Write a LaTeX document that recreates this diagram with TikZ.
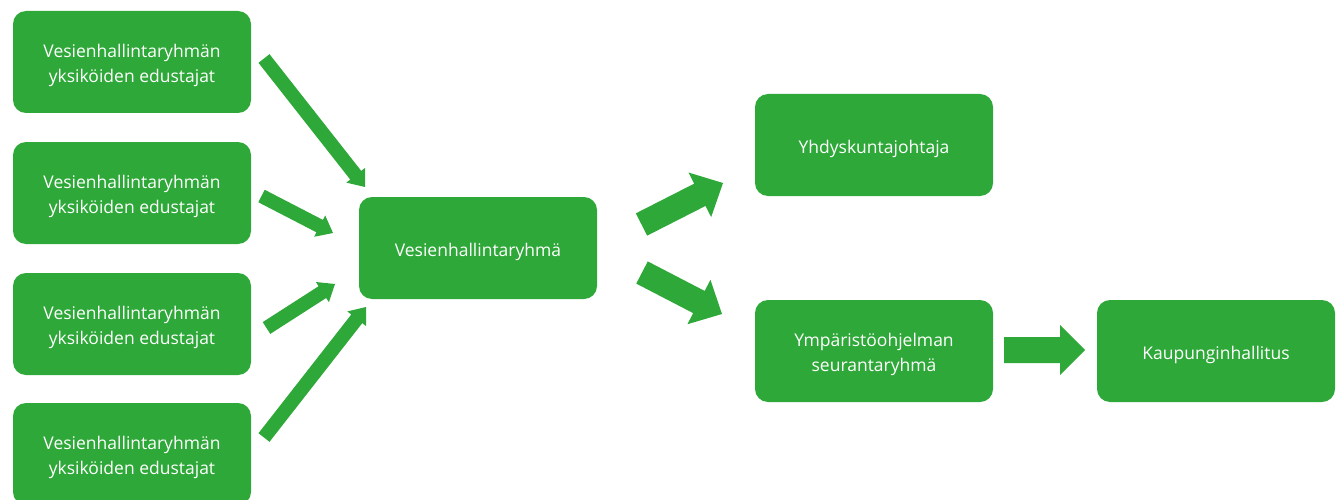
\documentclass[tikz,border=0pt]{standalone}
\usepackage{fontspec}
\setmainfont{Open Sans}
\usetikzlibrary{calc}
\definecolor{gr}{RGB}{46,168,56}
\tikzset{
  box/.style={fill=gr, rounded corners=13pt, minimum width=238pt, minimum height=102pt, inner sep=0pt},
  txt/.style={text=white, align=center, font=\fontsize{17.5}{25}\selectfont, inner sep=0pt},
}
% block arrow: #1 tail, #2 tip, #3 shaft half-width, #4 head half-width, #5 head length
\newcommand\blockarr[5]{%
  \coordinate (hb) at ($(#2)!#5!(#1)$);
  \fill[gr] ($(#1)!#3!90:(#2)$) -- ($(hb)!#3!-90:(#1)$) -- ($(hb)!#4!-90:(#1)$) -- (#2)
    -- ($(hb)!#4!90:(#1)$) -- ($(hb)!#3!90:(#1)$) -- ($(#1)!#3!-90:(#2)$) -- cycle;}
\begin{document}
\begin{tikzpicture}[x=1pt,y=-1pt]
\useasboundingbox (0,0) rectangle (1337,500);
\node[box] (l1) at (132,62) {};
\node[box] (l2) at (132,193) {};
\node[box] (l3) at (132,324) {};
\node[box] (l4) at (132,454) {};
\node[box] (c) at (478,248) {};
\node[box] (y) at (874,145) {};
\node[box] (s) at (874,351) {};
\node[box] (k) at (1216,351) {};
\node[txt] (l1t) at ([yshift=-3.5pt]l1.center) {Vesienhallintaryhmän\\yksiköiden edustajat};
\node[txt] (l2t) at ([yshift=-3.5pt]l2.center) {Vesienhallintaryhmän\\yksiköiden edustajat};
\node[txt] (l3t) at ([yshift=-3.5pt]l3.center) {Vesienhallintaryhmän\\yksiköiden edustajat};
\node[txt] (l4t) at ([yshift=-3.5pt]l4.center) {Vesienhallintaryhmän\\yksiköiden edustajat};
\node[txt] (ct) at ([yshift=-3.5pt]c.center) {Vesienhallintaryhmä};
\node[txt] (yt) at ([yshift=-3.5pt]y.center) {Yhdyskuntajohtaja};
\node[txt] (st) at ([yshift=-3.5pt]s.center) {Ympäristöohjelman\\seurantaryhmä};
\node[txt] (kt) at ([yshift=-3.5pt]k.center) {Kaupunginhallitus};
% arrow end points
\coordinate (a1t) at (264,58.5);  \coordinate (a1h) at (365,187);
\coordinate (a2t) at (261.5,196); \coordinate (a2h) at (333,233);
\coordinate (a3t) at (266.5,328); \coordinate (a3h) at (335,284);
\coordinate (a4t) at (264,437.5); \coordinate (a4h) at (366,307);
\coordinate (b1t) at (641.5,224.5); \coordinate (b1h) at (723,183);
\coordinate (b2t) at (642,272.5); \coordinate (b2h) at (722,314);
\coordinate (b3t) at (1004,350); \coordinate (b3h) at (1085,350);
\blockarr{a1t}{a1h}{7pt}{12pt}{15pt}
\blockarr{a2t}{a2h}{7pt}{12pt}{15pt}
\blockarr{a3t}{a3h}{7pt}{12pt}{15pt}
\blockarr{a4t}{a4h}{7pt}{12pt}{15pt}
\blockarr{b1t}{b1h}{12.5pt}{25pt}{26pt}
\blockarr{b2t}{b2h}{12.5pt}{25pt}{26pt}
\blockarr{b3t}{b3h}{13pt}{25pt}{25pt}
\end{tikzpicture}
\end{document}
